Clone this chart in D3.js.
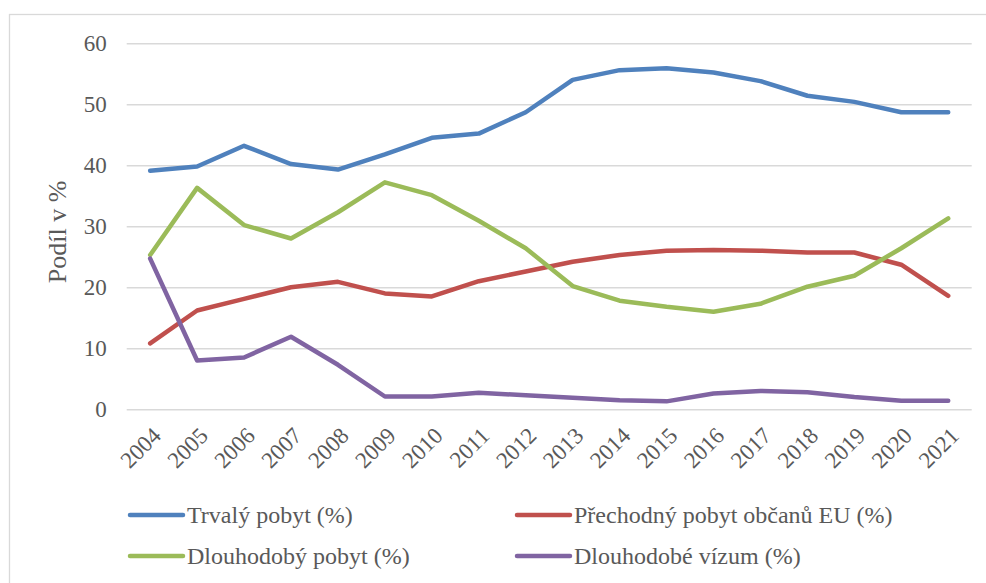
<!DOCTYPE html>
<html>
<head>
<meta charset="utf-8">
<script src="https://cdn.jsdelivr.net/npm/d3@7"></script>
<style>
  body { margin: 0; background: #fff; }
  svg text { font-family: "Liberation Serif", "Times New Roman", Times, "DejaVu Serif", serif !important; }
</style>
</head>
<body>
<svg id="chart" width="986" height="583"></svg>
<script>
// years on the x axis
const years = ['2004','2005','2006','2007','2008','2009','2010','2011','2012',
  '2013','2014','2015','2016','2017','2018','2019','2020','2021'];

// shares in %
const trvaly = [39.1, 39.8, 43.2, 40.2, 39.3, 41.8, 44.5, 45.2, 48.7,
  54.0, 55.6, 55.9, 55.2, 53.8, 51.4, 50.4, 48.7, 48.7];
const prechodny = [10.8, 16.2, 18.1, 20.0, 20.9, 19.0, 18.5, 21.0, 22.6,
  24.2, 25.3, 26.0, 26.1, 26.0, 25.7, 25.7, 23.7, 18.6];
const dlouhodobyPobyt = [25.3, 36.3, 30.2, 28.0, 32.3, 37.2, 35.1, 30.9, 26.4,
  20.2, 17.8, 16.8, 16.0, 17.3, 20.1, 21.9, 26.4, 31.3];
const dlouhodobeVizum = [24.7, 8.0, 8.5, 11.9, 7.3, 2.1, 2.1, 2.7, 2.3,
  1.9, 1.5, 1.3, 2.6, 3.0, 2.8, 2.0, 1.4, 1.4];

const yTicks = [0, 10, 20, 30, 40, 50, 60];

const series = [
  { name: 'Trvalý pobyt (%)', values: trvaly, color: '#4f81bd' },
  { name: 'Přechodný pobyt občanů EU (%)', values: prechodny, color: '#c0504d' },
  { name: 'Dlouhodobý pobyt (%)', values: dlouhodobyPobyt, color: '#9bbb59' },
  { name: 'Dlouhodobé vízum (%)', values: dlouhodobeVizum, color: '#8064a2' }
];

const svg = d3.select('#chart');

// outer chart border
svg.append('rect')
  .attr('x', 9.5).attr('y', 14.5)
  .attr('width', 990).attr('height', 600)
  .attr('fill', 'none')
  .attr('stroke', '#d9d9d9')
  .attr('stroke-width', 1.3);

const plot = { left: 126.7, right: 971.7, top: 43.3, bottom: 409.3 };

const x = d3.scalePoint()
  .domain(years)
  .range([plot.left, plot.right])
  .padding(0.5);

const y = d3.scaleLinear()
  .domain([0, 60])
  .range([plot.bottom, plot.top]);

// gridlines + y labels
const yAxis = svg.append('g')
  .attr('transform', `translate(${plot.left},0)`)
  .call(d3.axisLeft(y).tickValues(yTicks).tickSize(-(plot.right - plot.left)).tickPadding(20));
yAxis.select('.domain').remove();
yAxis.selectAll('.tick line').attr('stroke', '#d9d9d9').attr('stroke-width', 1.5);
yAxis.selectAll('.tick text')
  .attr('fill', '#595959')
  .style('font-size', '23px');

// x labels, rotated
const xAxis = svg.append('g')
  .attr('transform', `translate(0,${plot.bottom})`)
  .call(d3.axisBottom(x).tickSize(0).tickPadding(0));
xAxis.select('.domain').remove();
xAxis.selectAll('.tick text')
  .attr('fill', '#595959')
  .style('font-size', '23px')
  .attr('text-anchor', 'end')
  .attr('transform', 'translate(6,22) rotate(-45)')
  .attr('dy', '0.35em');

// axis title
svg.append('text')
  .attr('transform', 'translate(66,232) rotate(-90)')
  .attr('text-anchor', 'middle')
  .attr('fill', '#595959')
  .style('font-size', '26px')
  .text('Podíl v %');

// lines
const line = d3.line()
  .x((d, i) => x(years[i]))
  .y(d => y(d));

svg.selectAll('path.series')
  .data(series)
  .enter()
  .append('path')
  .attr('class', 'series')
  .attr('d', d => line(d.values))
  .attr('fill', 'none')
  .attr('stroke', d => d.color)
  .attr('stroke-width', 4.5)
  .attr('stroke-linejoin', 'round')
  .attr('stroke-linecap', 'round');

// legend: 2 columns, 2 rows
const legendPos = [[130, 515], [517, 515], [130, 556], [517, 556]];
const legend = svg.selectAll('g.legend')
  .data(series)
  .enter()
  .append('g')
  .attr('class', 'legend')
  .attr('transform', (d, i) => `translate(${legendPos[i][0]},${legendPos[i][1]})`);

legend.append('line')
  .attr('x1', 0).attr('x2', 53)
  .attr('stroke', d => d.color)
  .attr('stroke-width', 4.5)
  .attr('stroke-linecap', 'round');

legend.append('text')
  .attr('x', 57)
  .attr('dy', '0.35em')
  .attr('fill', '#595959')
  .style('font-size', '24px')
  .text(d => d.name);
</script>
</body>
</html>
